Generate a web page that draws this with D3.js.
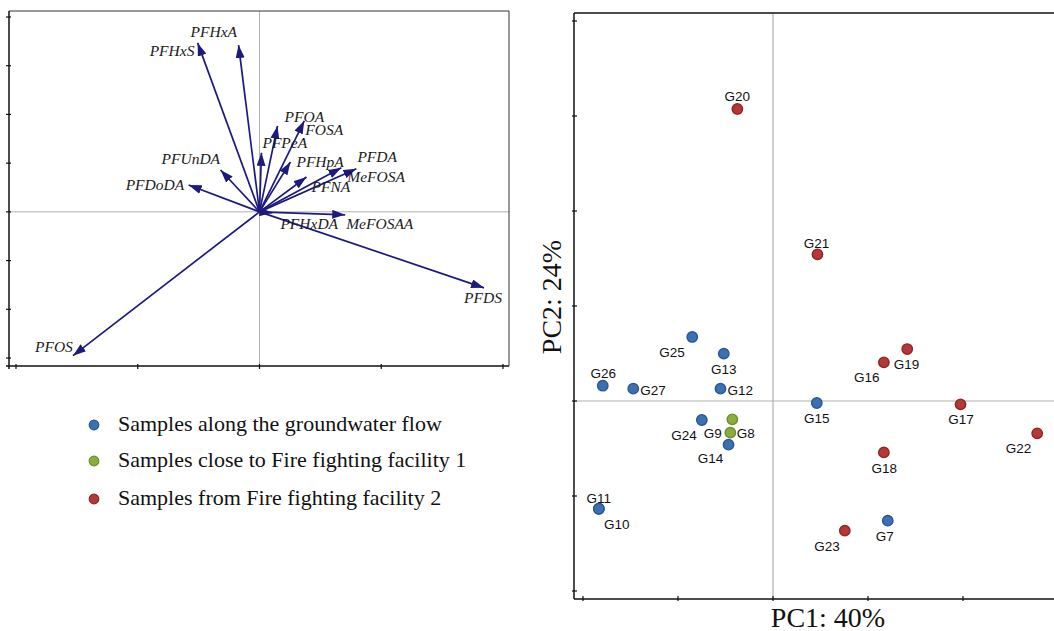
<!DOCTYPE html>
<html>
<head>
<meta charset="utf-8">
<script src="https://cdn.jsdelivr.net/npm/d3@7"></script>
<style>
  html, body { margin: 0; padding: 0; background: #fff; }
  svg { display: block; }
</style>
</head>
<body>
<svg id="chart" width="1054" height="631"></svg>
<script>
// ---------- Loadings (left biplot) ----------
const variables = ["PFHxS","PFHxA","PFOA","FOSA","PFPeA","PFUnDA","PFHpA","PFNA","MeFOSA","PFDA","PFDoDA","PFHxDA","MeFOSAA","PFDS","PFOS"];
const loadX = [-0.254,-0.086, 0.074, 0.184, 0.008,-0.160, 0.127, 0.193, 0.336, 0.398,-0.291, 0.053, 0.352, 0.922,-0.766];
const loadY = [ 0.867, 0.856, 0.441, 0.467, 0.303, 0.215, 0.256, 0.179, 0.226, 0.221, 0.138,-0.005,-0.015,-0.390,-0.738];
// label placement relative to arrow tip (px): [dx, dy]
const varLabelOffsets = [[-48,13],[-48,-8],[7,-4],[1,14],[1,-5],[-59,-6],[6,5],[5,15],[6,14],[1,-7],[-63,5],[8,16],[1,14],[-20,15],[-38,-4]];
const loadXTicks = [-1,-0.5,0,0.5,1];
const loadYTicks = [-0.75,-0.5,-0.25,0,0.25,0.5,0.75,1];

// ---------- Scores (right plot) ----------
const samples = ["G20","G21","G25","G13","G26","G27","G12","G15","G24","G9","G8","G14","G19","G16","G17","G22","G18","G11","G10","G7","G23"];
const pc1 = [-0.375, 0.468,-0.850,-0.518,-1.792,-1.471,-0.553, 0.461,-0.749,-0.449,-0.428,-0.468, 1.413, 1.167, 1.974, 2.781, 1.167,-1.833,-1.833, 1.208, 0.756];
const pc2 = [ 3.074, 1.544, 0.674, 0.498, 0.161, 0.130, 0.130,-0.021,-0.200,-0.333,-0.193,-0.460, 0.547, 0.407,-0.035,-0.340,-0.541,-1.134,-1.134,-1.260,-1.365];
const groups = [2,2,0,0,0,0,0,0,0,1,1,0,2,2,2,2,2,0,0,0,2];
// label placement relative to point (px): [dx, dy, anchor]
const sampleLabelOffsets = [[0,-8,"middle"],[-1,-6,"middle"],[-7.5,20,"end"],[0,20,"middle"],[0.5,-8,"middle"],[7,6,"start"],[7,6,"start"],[0,20,"middle"],[-5,20,"end"],[-8.5,5,"end"],[4.5,18.4,"start"],[-18,18.5,"middle"],[-13.4,20,"start"],[-4.3,19.4,"end"],[0.5,19.7,"middle"],[-6,19.4,"end"],[0.4,20.4,"middle"],[0,-6,"middle"],[18,20.5,"middle"],[-3,20,"middle"],[-5,20,"end"]];
const scoreXTicks = [-2,-1,0,1,2,3];
const scoreYTicks = [-2,-1,0,1,2,3,4];

const groupNames = ["Samples along the groundwater flow","Samples close to Fire fighting facility 1","Samples from Fire fighting facility 2"];
const groupFill = ["#3d70b2","#8cad3e","#b53838"];
const groupStroke = ["#2a5791","#6b8d2b","#8e2626"];

const axisTitleX = "PC1: 40%";
const axisTitleY = "PC2: 24%";

const svg = d3.select("#chart");

// ================= LEFT PANEL =================
const L = { left: 9, right: 509, top: 11, bottom: 366 };
const lx = d3.scaleLinear().domain([-1, 1]).range([16, 503]);
const ly = d3.scaleLinear().domain([-0.75, 1]).range([358, 17]);
const gl = svg.append("g");

gl.append("line").attr("x1", L.left).attr("x2", L.right).attr("y1", ly(0)).attr("y2", ly(0))
  .attr("stroke", "#b0b0b0").attr("stroke-width", 1);
gl.append("line").attr("x1", lx(0)).attr("x2", lx(0)).attr("y1", L.top).attr("y2", L.bottom)
  .attr("stroke", "#b0b0b0").attr("stroke-width", 1);
gl.append("line").attr("x1", L.left).attr("x2", L.right).attr("y1", L.top).attr("y2", L.top).attr("stroke", "#333").attr("stroke-width", 1);
gl.append("line").attr("x1", L.right).attr("x2", L.right).attr("y1", L.top).attr("y2", L.bottom).attr("stroke", "#333").attr("stroke-width", 1);
gl.append("line").attr("x1", L.left).attr("x2", L.left).attr("y1", L.top).attr("y2", L.bottom + 3).attr("stroke", "#111").attr("stroke-width", 1.5);
gl.append("line").attr("x1", L.left - 3).attr("x2", L.right).attr("y1", L.bottom).attr("y2", L.bottom).attr("stroke", "#111").attr("stroke-width", 1.5);
gl.selectAll(".ytk").data(loadYTicks).join("line")
  .attr("x1", L.left - 3).attr("x2", L.left + 2).attr("y1", d => ly(d)).attr("y2", d => ly(d))
  .attr("stroke", "#111").attr("stroke-width", 1.2);
gl.selectAll(".xtk").data(loadXTicks).join("line")
  .attr("x1", d => lx(d)).attr("x2", d => lx(d)).attr("y1", L.bottom - 2).attr("y2", L.bottom + 3)
  .attr("stroke", "#111").attr("stroke-width", 1.2);

const arrowColor = "#1d1a7e";
svg.append("defs").append("marker")
  .attr("id", "ah").attr("markerUnits", "userSpaceOnUse")
  .attr("viewBox", "0 0 13 9").attr("refX", 13).attr("refY", 4.5)
  .attr("markerWidth", 13).attr("markerHeight", 9).attr("orient", "auto")
  .append("path").attr("d", "M0,0 L13,4.5 L0,9 Z").attr("fill", arrowColor);

const loadings = variables.map((v, i) => ({ name: v, x: loadX[i], y: loadY[i], off: varLabelOffsets[i] }));
gl.selectAll(".arrow").data(loadings).join("line")
  .attr("x1", lx(0)).attr("y1", ly(0))
  .attr("x2", d => lx(d.x)).attr("y2", d => ly(d.y))
  .attr("stroke", arrowColor).attr("stroke-width", 1.7)
  .attr("marker-end", "url(#ah)");
gl.selectAll(".vlab").data(loadings).join("text")
  .attr("x", d => lx(d.x) + d.off[0]).attr("y", d => ly(d.y) + d.off[1])
  .attr("font-family", "'Liberation Serif', 'Times New Roman', serif")
  .attr("font-style", "italic").attr("font-size", "15.5px").attr("fill", "#1a1a1a")
  .text(d => d.name);

// legend
const lg = svg.append("g");
const legendY = [425, 461, 499];
groupNames.forEach((name, i) => {
  lg.append("circle").attr("cx", 94).attr("cy", legendY[i]).attr("r", 4.8)
    .attr("fill", groupFill[i]).attr("stroke", groupStroke[i]).attr("stroke-width", 1.2);
  lg.append("text").attr("x", 118).attr("y", legendY[i] + 5.5)
    .attr("font-family", "'Liberation Serif', 'Times New Roman', serif")
    .attr("font-size", "22px").attr("fill", "#111").text(name);
});

// ================= RIGHT PANEL =================
const R = { left: 574, right: 1060, top: 13, bottom: 599 };
const rx = d3.scaleLinear().domain([-2, 3]).range([583, 1058]);
const ry = d3.scaleLinear().domain([-2, 4]).range([591, 21]);
const gr = svg.append("g");

gr.append("line").attr("x1", R.left).attr("x2", R.right).attr("y1", ry(0)).attr("y2", ry(0)).attr("stroke", "#b0b0b0").attr("stroke-width", 1);
gr.append("line").attr("x1", rx(0)).attr("x2", rx(0)).attr("y1", R.top).attr("y2", R.bottom).attr("stroke", "#b0b0b0").attr("stroke-width", 1.2);
gr.append("line").attr("x1", R.left).attr("x2", R.right).attr("y1", R.top).attr("y2", R.top).attr("stroke", "#111").attr("stroke-width", 1.5);
gr.append("line").attr("x1", R.left).attr("x2", R.left).attr("y1", R.top).attr("y2", R.bottom).attr("stroke", "#111").attr("stroke-width", 1.5);
gr.append("line").attr("x1", R.left).attr("x2", R.right).attr("y1", R.bottom).attr("y2", R.bottom).attr("stroke", "#111").attr("stroke-width", 1.5);
gr.selectAll(".rytk").data(scoreYTicks).join("line")
  .attr("x1", R.left - 2).attr("x2", R.left + 3).attr("y1", d => ry(d)).attr("y2", d => ry(d))
  .attr("stroke", "#111").attr("stroke-width", 1.2);
gr.selectAll(".rxtk").data(scoreXTicks).join("line")
  .attr("x1", d => rx(d)).attr("x2", d => rx(d)).attr("y1", R.bottom - 3).attr("y2", R.bottom + 2)
  .attr("stroke", "#111").attr("stroke-width", 1.2);

const scores = samples.map((s, i) => ({ name: s, x: pc1[i], y: pc2[i], g: groups[i], off: sampleLabelOffsets[i] }));
gr.selectAll(".pt").data(scores).join("circle")
  .attr("cx", d => rx(d.x)).attr("cy", d => ry(d.y)).attr("r", 5.2)
  .attr("fill", d => groupFill[d.g]).attr("stroke", d => groupStroke[d.g]).attr("stroke-width", 1.4);
gr.selectAll(".plab").data(scores).join("text")
  .attr("x", d => rx(d.x) + d.off[0]).attr("y", d => ry(d.y) + d.off[1])
  .attr("text-anchor", d => d.off[2])
  .attr("font-family", "'Liberation Sans', Arial, sans-serif")
  .attr("font-size", "13.5px").attr("fill", "#111")
  .text(d => d.name);

// axis titles
svg.append("text").attr("x", 828).attr("y", 627).attr("text-anchor", "middle")
  .attr("font-family", "'Liberation Serif', 'Times New Roman', serif").attr("font-size", "28px").attr("fill", "#111")
  .text(axisTitleX);
svg.append("text").attr("transform", "translate(561,297) rotate(-90)").attr("text-anchor", "middle")
  .attr("font-family", "'Liberation Serif', 'Times New Roman', serif").attr("font-size", "28px").attr("fill", "#111")
  .text(axisTitleY);
</script>
</body>
</html>
